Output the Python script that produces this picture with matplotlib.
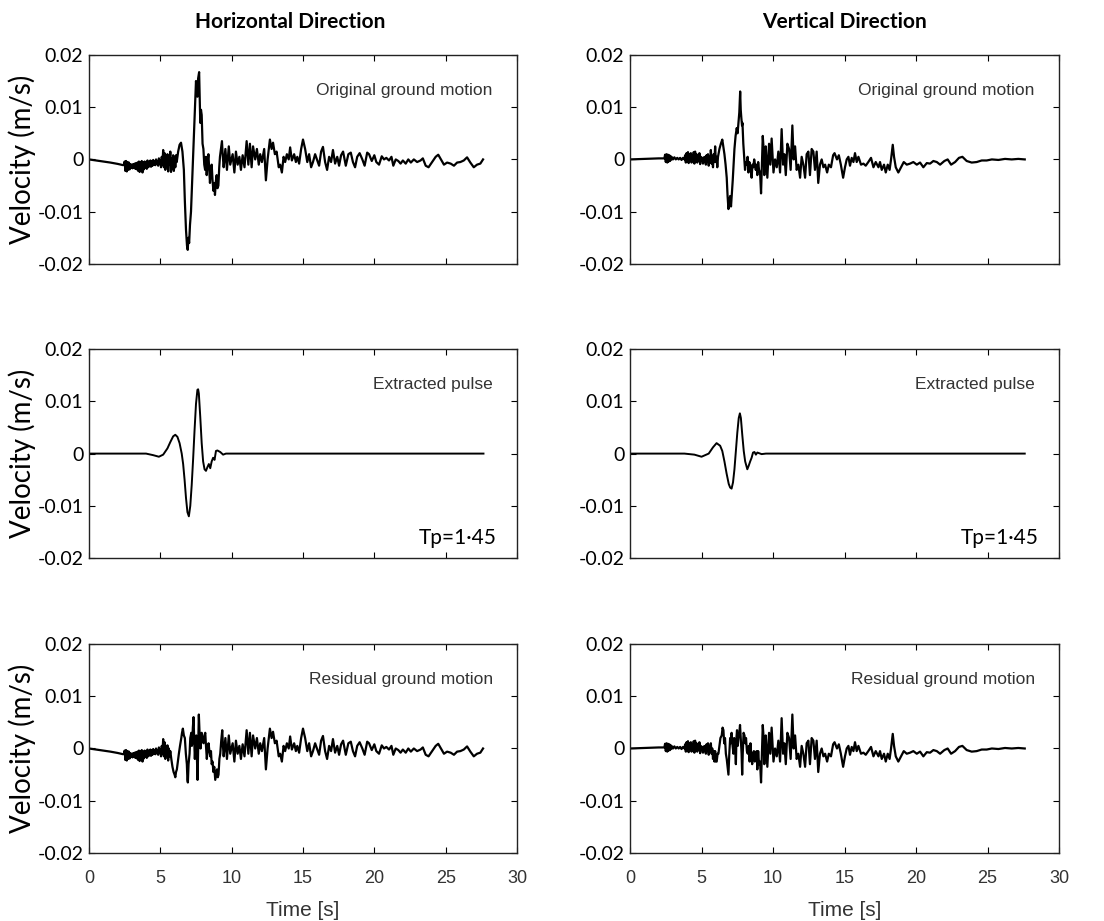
import numpy as np
import matplotlib
matplotlib.use("Agg")
import matplotlib.pyplot as plt

# ---- data (velocities in mm/s, converted to m/s below) ----

# Horizontal: quiet start + high-frequency band before the pulse (shared by original/residual)
h_head_t = [0, 0.5, 1.0, 1.5, 2.0, 2.4,
            2.45, 2.50, 2.55, 2.60, 2.65, 2.70, 2.75, 2.80, 2.85, 2.90, 2.95, 3.00,
            3.05, 3.10, 3.15, 3.20, 3.25, 3.30, 3.35, 3.40, 3.45, 3.50, 3.55, 3.60,
            3.65, 3.70, 3.75, 3.80, 3.85, 3.90, 3.95, 4.00, 4.05, 4.10, 4.15, 4.20,
            4.25, 4.30, 4.35, 4.40, 4.45, 4.50, 4.55, 4.60, 4.65, 4.70, 4.75, 4.80,
            4.85, 4.90, 4.95]
h_head_v = [0, -0.2, -0.4, -0.6, -0.85, -1.1,
            -1.0, -0.4, -2.2, -0.3, -2.3, -0.5, -2.0, -0.6, -1.9, -0.9, -1.6, -1.0,
            -1.7, -0.9, -1.6, -0.8, -1.8, -0.7, -1.9, -0.6, -2.2, -0.4, -2.4, -0.5,
            -2.0, -0.3, -2.5, -0.6, -1.9, -0.4, -1.6, -0.5, -1.8, -0.2, -1.5, -0.6,
            -1.3, -0.2, -1.4, -0.3, -1.2, -0.1, -1.0, -0.4, -1.1, 0.0, -0.9, -0.3,
            -1.2, 0.2, -0.8]

h_orig_mid_t = [5.00, 5.05, 5.10, 5.15, 5.20, 5.25, 5.30, 5.35, 5.40, 5.45, 5.50, 5.55,
                5.60, 5.65, 5.70, 5.75, 5.80, 5.85, 5.90, 5.95, 6.00, 6.05, 6.10, 6.15,
                6.25, 6.35, 6.45, 6.55, 6.65, 6.72, 6.80, 6.87, 6.92, 6.97, 7.02, 7.08,
                7.15, 7.22, 7.28, 7.35, 7.40, 7.45, 7.50, 7.55, 7.60, 7.65, 7.72, 7.77,
                7.80, 7.85, 7.90, 7.96, 8.02, 8.08, 8.14, 8.20, 8.25, 8.31, 8.37, 8.43,
                8.48, 8.54, 8.60, 8.66, 8.72, 8.78, 8.83, 8.90, 8.95, 9.01, 9.07, 9.13,
                9.18, 9.25, 9.32, 9.38, 9.44]
h_orig_mid_v = [-0.2, -1.5, 0.5, -1.0, 1.8, -1.5, 1.2, -2.0, 0.5, -1.2, 1.0, -2.3,
                0.3, -1.0, 1.5, -2.4, 0.2, -1.8, 0.8, -2.2, 0.5, -1.5, 0.8, -0.5,
                1.5, 2.8, 3.2, 1.5, -2.0, -8.0, -13.5, -16.5, -17.3, -15.0, -16.0, -12.5,
                -10.0, -5.0, -1.0, 4.0, 8.0, 11.0, 15.0, 13.5, 12.0, 15.5, 16.7, 11.0,
                7.0, 9.5, 8.5, 3.0, 2.0, -1.0, -2.0, 0.5, -3.0, -0.5, 1.0, -2.0,
                -4.5, -2.0, -1.0, -4.0, -6.0, -4.5, -6.8, -4.0, -3.0, -5.5, -5.0, -1.5,
                0.5, 2.0, 3.5, 0.5, -1.5]

h_res_mid_t = [5.00, 5.05, 5.10, 5.15, 5.20, 5.25, 5.30, 5.35, 5.40, 5.45, 5.50, 5.55,
               5.60, 5.65, 5.70, 5.77, 5.85, 5.93, 6.00, 6.05, 6.10, 6.16, 6.23, 6.30,
               6.38, 6.47, 6.52, 6.58, 6.65, 6.72, 6.79, 6.86, 6.90, 6.93, 6.98, 7.05,
               7.10, 7.17, 7.21, 7.24, 7.28, 7.33, 7.37, 7.42, 7.47, 7.52, 7.57, 7.61,
               7.65, 7.70, 7.75, 7.82, 7.86, 7.90, 7.96, 8.03, 8.09, 8.15, 8.20, 8.26,
               8.32, 8.38, 8.44, 8.50, 8.55, 8.60, 8.66, 8.72, 8.78, 8.85, 8.91, 8.97,
               9.03, 9.08, 9.14, 9.20, 9.27, 9.34, 9.39, 9.44]
h_res_mid_v = [-0.2, -1.5, 0.5, -1.0, 1.8, -1.5, 1.2, -2.0, 0.5, -1.2, 0.6, -2.3,
               0.0, -1.5, -0.5, -2.0, -3.5, -4.5, -5.0, -5.5, -4.5, -4.0, -2.5, -1.0,
               0.5, 2.0, 3.0, 3.8, 2.5, 2.0, -1.0, -3.0, -6.0, -6.5, -3.0, -1.0,
               2.0, 3.0, 0.5, 1.0, 4.0, 6.0, 2.0, -2.0, 1.0, 2.5, -2.0, -6.0,
               0.0, 6.5, 3.0, 0.0, 2.0, 3.0, 1.5, 1.0, 2.5, 3.0, 0.5, -2.0,
               0.0, 1.0, -0.5, -1.5, -0.5, -3.0, -2.5, -4.5, -3.5, -6.0, -5.0, -4.0,
               -5.5, -5.0, -2.0, -1.0, 1.5, 3.5, 0.5, -1.5]

h_tail_t = [9.56, 9.67, 9.80, 9.90, 10.07, 10.19, 10.30, 10.42, 10.54, 10.65, 10.77, 10.90,
            11.05, 11.17, 11.28, 11.40, 11.50, 11.65, 11.77, 11.90, 12.00, 12.12, 12.28, 12.40,
            12.52, 12.68, 12.80, 12.90, 13.03, 13.15, 13.30, 13.40, 13.52, 13.64, 13.75, 13.87,
            14.00, 14.10, 14.22, 14.38, 14.50, 14.60, 14.73, 14.87, 15.00, 15.15, 15.30, 15.43,
            15.57, 15.70, 15.85, 16.00, 16.13, 16.27, 16.40, 16.55, 16.69, 16.83, 16.97, 17.10,
            17.25, 17.40, 17.53, 17.67, 17.81, 18.00, 18.18, 18.35, 18.50, 18.65, 18.80, 18.97,
            19.16, 19.32, 19.50, 19.63, 19.82, 20.00, 20.14, 20.33, 20.52, 20.68, 20.84, 21.03,
            21.20, 21.33, 21.50, 21.68, 21.84, 22.00, 22.20, 22.38, 22.56, 22.77, 23.00, 23.24,
            23.40, 23.60, 23.80, 24.05, 24.30, 24.48, 24.67, 24.88, 25.10, 25.35, 25.58, 25.80,
            26.03, 26.27, 26.50, 26.73, 26.97, 27.20, 27.43, 27.62]
h_tail_v = [2.0, -2.0, 2.5, -1.0, 1.0, -2.5, 1.5, -1.0, 0.5, -2.0, 0.8, -1.5,
            3.5, -1.0, 3.0, -1.5, 2.5, 0.0, 2.0, -1.0, 1.0, -0.5, 2.0, -4.0,
            0.0, 3.8, 2.0, 3.2, 1.0, 1.5, -1.5, -1.0, -2.5, 0.5, -0.5, 1.0,
            0.0, 2.3, -0.2, 1.0, -0.5, 0.5, -0.8, 2.0, 3.8, 2.0, -0.5, 1.0,
            -1.5, -0.5, 1.0, -0.2, -1.2, 1.5, 2.4, -0.5, -2.0, 0.5, -0.5, 1.8,
            -0.8, 0.5, -1.2, 0.8, 1.5, -1.2, 1.0, 1.3, -0.5, -1.5, 0.5, 1.2,
            0.0, -1.2, 1.3, 1.0, -0.3, 0.8, -0.5, -1.0, 0.6, 0.0, 0.3, -0.2,
            0.5, -1.2, 0.0, -0.3, -0.8, -0.2, -0.8, 0.0, -0.6, 0.0, -0.5, -0.2,
            0.2, -1.2, -1.5, -0.5, 0.5, 0.9, 0.0, -1.0, -0.6, -0.8, -1.2, -0.6,
            -0.5, -0.2, 0.4, -0.6, -1.5, -1.0, -0.8, 0.0]

h_pulse_t = [0, 4.0, 4.5, 4.9, 5.2, 5.5, 5.7, 5.9, 6.05, 6.2, 6.35, 6.5, 6.6, 6.7,
             6.8, 6.9, 7.0, 7.1, 7.2, 7.3, 7.4, 7.5, 7.6, 7.65, 7.7, 7.8, 7.9, 8.0,
             8.1, 8.2, 8.3, 8.4, 8.5, 8.6, 8.7, 8.8, 8.9, 9.0, 9.2, 9.4, 9.6, 27.65]
h_pulse_v = [0, 0, -0.3, -0.6, -0.2, 1.0, 2.2, 3.3, 3.6, 3.2, 2.0, 0.0, -2.0, -5.0,
             -8.5, -11.2, -12.0, -10.0, -6.0, -1.0, 4.5, 9.5, 12.2, 12.3, 11.5, 7.0, 2.0, -1.5,
             -3.0, -3.3, -2.6, -2.0, -2.8, -1.5, -0.8, -1.2, 0.5, 0.6, 0.3, -0.2, 0, 0]

# Vertical
v_head_t = [0, 1.0, 2.0, 2.4,
            2.45, 2.50, 2.55, 2.60, 2.65, 2.70, 2.75, 2.80, 2.85, 2.90, 2.95, 3.00,
            3.10, 3.20, 3.30, 3.40, 3.50, 3.60, 3.70, 3.80, 3.85, 3.90, 3.95, 4.00,
            4.05, 4.10, 4.15, 4.20, 4.25, 4.30, 4.35, 4.40, 4.45, 4.50, 4.55, 4.60,
            4.65, 4.70, 4.75, 4.80, 4.85, 4.90, 4.95, 5.00, 5.05, 5.10, 5.15, 5.20]
v_head_v = [0, 0.1, 0.2, 0.2,
            0.9, -0.5, 1.0, -0.6, 0.9, -0.4, 0.8, -0.3, 0.6, 0.0, 0.4, 0.0,
            0.4, 0.0, 0.3, 0.0, 0.3, -0.1, 0.3, 0.0, 0.8, -0.6, 1.2, -0.5,
            1.4, -0.7, 1.0, -0.3, 1.2, -0.6, 0.8, -0.2, 1.4, -0.8, 1.5, -0.4,
            1.0, -0.6, 0.6, -0.2, 1.2, -0.9, 0.5, -0.3, 0.3, -0.8, 0.4, -0.5]

v_orig_mid_t = [5.25, 5.30, 5.35, 5.40, 5.45, 5.50, 5.55, 5.60, 5.65, 5.70, 5.75, 5.80,
                5.85, 5.90, 5.95, 6.00, 6.05, 6.10, 6.15, 6.25, 6.35, 6.45, 6.52, 6.60,
                6.68, 6.76, 6.82, 6.88, 6.94, 7.00, 7.06, 7.12, 7.18, 7.24, 7.30, 7.38,
                7.46, 7.52, 7.58, 7.64, 7.70, 7.74, 7.78, 7.83, 7.86, 7.92, 7.97, 8.04,
                8.10, 8.16, 8.22, 8.28, 8.34, 8.39, 8.45, 8.50, 8.56, 8.62, 8.68, 8.74,
                8.79, 8.85, 8.90, 8.96, 9.02, 9.09, 9.16, 9.22, 9.28, 9.34, 9.39, 9.44,
                9.49, 9.55]
v_orig_mid_v = [0.5, -1.0, 0.8, -0.5, 1.0, -1.2, 0.5, -0.6, 1.8, -0.8, 0.2, -1.5,
                1.0, -0.5, 2.5, -0.5, 0.5, -1.5, 0.5, 2.0, 3.0, 3.8, 2.5, 1.0,
                -1.0, -3.5, -7.0, -9.5, -8.0, -7.0, -9.0, -6.5, -4.0, -1.0, 2.0, 4.5,
                6.0, 5.0, 7.0, 9.0, 13.0, 9.5, 8.0, 6.5, 7.0, 3.0, 1.0, -2.0,
                -0.5, -1.0, 0.5, -2.5, -0.5, -1.0, -2.0, -3.5, -1.0, -1.5, 0.0, -1.0,
                -2.0, -1.0, -3.0, -0.5, -2.0, -2.5, -6.5, -1.0, 4.5, 2.0, -3.0, 0.5,
                2.5, -1.0]

v_res_mid_t = [5.25, 5.30, 5.35, 5.40, 5.45, 5.50, 5.55, 5.60, 5.65, 5.70, 5.75, 5.80,
               5.85, 5.90, 5.95, 6.00, 6.06, 6.12, 6.18, 6.25, 6.32, 6.41, 6.47, 6.53,
               6.58, 6.64, 6.70, 6.76, 6.82, 6.88, 6.94, 7.00, 7.05, 7.10, 7.17, 7.23,
               7.28, 7.34, 7.40, 7.44, 7.48, 7.53, 7.58, 7.64, 7.69, 7.74, 7.80, 7.84,
               7.88, 7.94, 8.00, 8.06, 8.11, 8.17, 8.23, 8.30, 8.36, 8.42, 8.48, 8.54,
               8.60, 8.66, 8.72, 8.79, 8.85, 8.90, 8.96, 9.02, 9.09, 9.16, 9.22, 9.28,
               9.34, 9.39, 9.44, 9.49, 9.55]
v_res_mid_v = [0.5, -1.0, 0.8, -0.5, 1.0, -1.2, 0.5, -0.6, 1.0, -1.0, 0.0, -2.0,
               -0.5, -2.5, -0.5, -2.5, -2.5, -1.0, -1.0, 0.5, 2.0, 2.5, 4.0, 3.5,
               1.0, 2.0, -1.0, -2.0, -3.5, -5.0, -1.0, 2.0, 1.0, 3.0, 0.5, -1.0,
               2.0, 1.0, -3.0, 2.0, 3.5, 0.5, 2.0, 3.0, 4.5, 2.0, -1.0, -5.0,
               -1.0, 3.0, 2.5, 1.0, 2.0, -0.5, -1.0, 0.5, -2.5, 1.0, -1.5, -3.0,
               -1.0, -0.5, -2.5, -2.0, -0.5, -4.0, -0.5, -3.0, -2.5, -6.5, -1.0, 4.5,
               2.0, -3.0, 0.5, 2.5, -1.0]

v_tail_t = [9.60, 9.72, 9.81, 9.90, 10.03, 10.14, 10.26, 10.37, 10.49, 10.60, 10.70, 10.79,
            10.89, 11.00, 11.12, 11.23, 11.35, 11.44, 11.54, 11.65, 11.77, 11.89, 12.00, 12.12,
            12.24, 12.35, 12.47, 12.58, 12.70, 12.82, 12.93, 13.05, 13.16, 13.28, 13.40, 13.52,
            13.64, 13.78, 13.90, 14.05, 14.20, 14.30, 14.47, 14.60, 14.74, 14.90, 15.03, 15.15,
            15.27, 15.38, 15.50, 15.62, 15.73, 15.85, 15.97, 16.15, 16.32, 16.48, 16.66, 16.85,
            17.02, 17.18, 17.37, 17.48, 17.60, 17.76, 17.88, 18.02, 18.15, 18.25, 18.37, 18.46,
            18.58, 18.76, 18.95, 19.14, 19.35, 19.58, 19.81, 20.05, 20.28, 20.51, 20.75, 20.98,
            21.21, 21.45, 21.68, 21.98, 22.21, 22.45, 22.73, 23.00, 23.24, 23.54, 23.89, 24.24,
            24.59, 24.94, 25.30, 25.76, 26.22, 26.69, 27.15, 27.60]
v_tail_v = [-3.5, 3.0, -1.0, 4.0, -2.5, 0.0, -1.5, 1.5, -2.5, 5.8, -1.0, 1.0,
            -3.0, 3.0, 2.0, -2.0, 6.5, 0.0, 2.5, -2.0, -1.0, -3.5, 0.5, -1.0,
            -3.5, 1.0, 1.5, -3.0, 2.0, 1.5, -2.0, 1.5, -4.5, -1.0, 0.0, -1.5,
            -1.0, -2.5, -1.0, -1.5, 0.8, 1.2, 0.0, 0.8, -1.0, -3.5, -1.5, 0.0,
            0.5, -1.2, 0.3, -0.5, 1.2, -0.5, 0.5, -1.0, -0.8, -1.2, -0.5, 0.3,
            -1.5, -0.5, -1.5, -0.5, -2.0, -1.0, -2.5, -1.0, -2.0, 0.0, 2.8, 0.5,
            -1.5, -2.5, -1.5, -0.5, -1.0, -0.8, -0.5, -1.0, -0.6, -1.5, -0.7, -0.8,
            -0.3, -0.5, -1.0, -0.3, 0.0, -1.0, -0.5, 0.3, 0.5, -0.3, -0.6, -0.5,
            -0.2, -0.2, 0.0, -0.1, 0.1, 0.0, 0.1, 0.0]

v_pulse_t = [0, 3.8, 4.5, 5.0, 5.5, 5.8, 6.05, 6.3, 6.45, 6.6, 6.75, 6.9, 7.0, 7.1,
             7.2, 7.3, 7.4, 7.5, 7.6, 7.68, 7.75, 7.85, 7.95, 8.05, 8.2, 8.3, 8.4, 8.5,
             8.6, 8.7, 8.8, 8.9, 9.0, 9.2, 9.5, 27.6]
v_pulse_v = [0, 0, -0.2, -0.6, 0.0, 1.2, 2.0, 1.5, 0.5, -1.5, -3.8, -5.8, -6.5, -6.7,
             -5.5, -3.0, 0.5, 4.0, 6.8, 7.7, 6.8, 3.5, 0.5, -1.5, -3.0, -2.3, -1.5, -0.8,
             0.2, 0.3, -0.2, 0.2, 0.1, -0.1, 0, 0]

col_titles = ["Horizontal Direction", "Vertical Direction"]
row_notes = ["Original ground motion", "Extracted pulse", "Residual ground motion"]
tp_text = "Tp=1\u00b745"


def series(*parts):
    # join read-off pieces, mm/s -> m/s
    t = np.concatenate([p[0] for p in parts])
    v = np.concatenate([p[1] for p in parts]) * 1e-3
    return t, v


columns = [
    [series((h_head_t, h_head_v), (h_orig_mid_t, h_orig_mid_v), (h_tail_t, h_tail_v)),
     series((h_pulse_t, h_pulse_v)),
     series((h_head_t, h_head_v), (h_res_mid_t, h_res_mid_v), (h_tail_t, h_tail_v))],
    [series((v_head_t, v_head_v), (v_orig_mid_t, v_orig_mid_v), (v_tail_t, v_tail_v)),
     series((v_pulse_t, v_pulse_v)),
     series((v_head_t, v_head_v), (v_res_mid_t, v_res_mid_v), (v_tail_t, v_tail_v))],
]

# ---- figure ----
fig = plt.figure(figsize=(11.04, 9.21), dpi=100)

lefts = [0.0806, 0.5707]
widths = [0.3877, 0.3886]
bottoms = [0.7134, 0.394, 0.0738]
height = 0.227

for c in range(2):
    for r in range(3):
        ax = fig.add_axes([lefts[c], bottoms[r], widths[c], height])
        t, v = columns[c][r]
        ax.plot(t, v, color="black", lw=1.6 if r != 1 else 1.4)

        ax.set_xlim(0, 30)
        ax.set_ylim(-0.02, 0.02)
        ax.set_xticks([0, 5, 10, 15, 20, 25, 30])
        ax.set_yticks([-0.02, -0.01, 0, 0.01, 0.02])
        ax.set_yticklabels(["-0.02", "-0.01", "0", "0.01", "0.02"],
                           family="Lato", fontsize=14)
        ax.tick_params(axis="y", direction="in", length=4, width=0.8, right=True, pad=4)
        ax.tick_params(axis="x", direction="in", length=4, width=0.8, top=True, pad=12)
        for s in ax.spines.values():
            s.set_linewidth(1.0)
            s.set_color("#222222")

        if r == 2:
            ax.set_xticklabels(["0", "5", "10", "15", "20", "25", "30"],
                               family="Liberation Sans", fontsize=13, color="#333333")
            ax.set_xlabel("Time [s]", family="Liberation Sans", fontsize=15,
                          color="#333333", labelpad=10)
        else:
            ax.set_xticklabels([])

        if c == 0:
            ax.set_ylabel("Velocity (m/s)", family="Lato", fontsize=20, labelpad=1)

        ax.text(28.3, 0.0132, row_notes[r], ha="right", va="center",
                family="Liberation Sans", fontsize=12.5, color="#333333")
        if r == 1:
            ax.text(28.6, -0.0162, tp_text, ha="right", va="center",
                    family="Lato", fontsize=15, color="black")

fig.text(0.263, 0.976, col_titles[0], ha="center", va="center",
         family="Lato", fontweight="bold", fontsize=15)
fig.text(0.7645, 0.976, col_titles[1], ha="center", va="center",
         family="Lato", fontweight="bold", fontsize=15)

fig.savefig("out.png", dpi=100)
